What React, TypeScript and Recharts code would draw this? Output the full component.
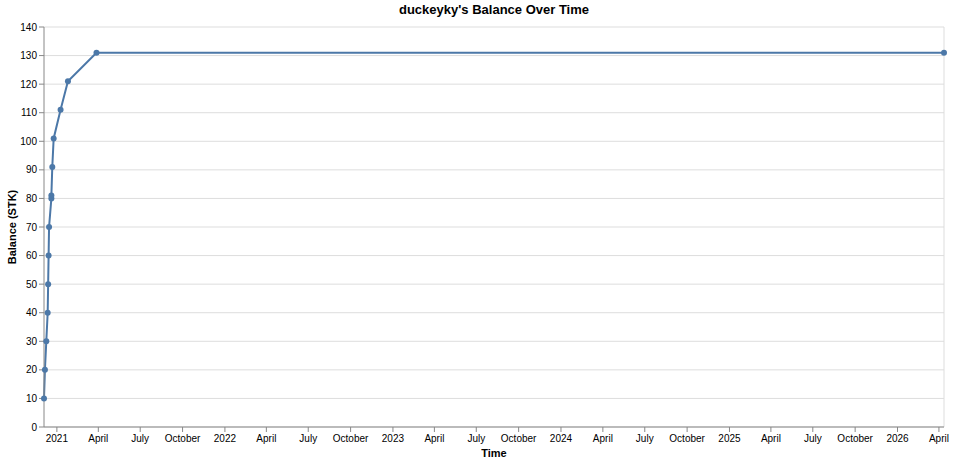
import React from 'react';
import { LineChart, Line, XAxis, YAxis, CartesianGrid, ReferenceLine } from 'recharts';

const dates: string[] = [
  '2020-12-04', '2020-12-06', '2020-12-09', '2020-12-12', '2020-12-13',
  '2020-12-14', '2020-12-15', '2020-12-20', '2020-12-20', '2020-12-22',
  '2020-12-25', '2021-01-09', '2021-01-25', '2021-03-28', '2026-04-12',
];
const balances: number[] = [10, 20, 30, 40, 50, 60, 70, 80, 81, 91, 101, 111, 121, 131, 131];

const yTicks: number[] = [0, 10, 20, 30, 40, 50, 60, 70, 80, 90, 100, 110, 120, 130, 140];
const xTickDates: string[] = [];
for (const y of [2021, 2022, 2023, 2024, 2025, 2026]) {
  for (const m of ['01', '04', '07', '10']) {
    if (y === 2026 && (m === '07' || m === '10')) continue;
    xTickDates.push(`${y}-${m}-01`);
  }
}
const monthNames: Record<number, string> = { 3: 'April', 6: 'July', 9: 'October' };

const toTs = (d: string) => Date.UTC(+d.slice(0, 4), +d.slice(5, 7) - 1, +d.slice(8, 10));
const data = dates.map((d, i) => ({ t: toTs(d), balance: balances[i] }));
const xTicks = xTickDates.map(toTs);
const fmt = (v: number) => {
  const dt = new Date(v);
  const m = dt.getUTCMonth();
  return m === 0 ? String(dt.getUTCFullYear()) : monthNames[m] ?? '';
};

const FONT = 'Liberation Sans, Arial, sans-serif';
const COLOR = '#4c78a8';

export default function App() {
  const first = data[0].t;
  const last = data[data.length - 1].t;
  return (
    <div style={{ position: 'absolute', left: 0, top: 0, width: 953, height: 464, fontFamily: FONT, background: '#fff' }}>
      <LineChart width={953} height={464} data={data} margin={{ top: 27, right: 9, bottom: 0, left: 0 }}>
        <CartesianGrid vertical={false} stroke="#ddd" strokeWidth={1} />
        <ReferenceLine x={last} stroke="#ddd" />
        <XAxis
          dataKey="t"
          type="number"
          scale="time"
          domain={[first, last]}
          ticks={xTicks}
          tickFormatter={fmt}
          interval={0}
          height={37}
          stroke="#888"
          tickSize={5}
          tick={{ fill: '#000', fontSize: 10, fontFamily: FONT }}
          tickMargin={3}
        />
        <YAxis
          type="number"
          domain={[0, 140]}
          ticks={yTicks}
          interval={0}
          width={44}
          stroke="#888"
          tickSize={5}
          tickMargin={2}
          tick={{ fill: '#000', fontSize: 10, fontFamily: FONT }}
        />
        <Line
          type="linear"
          dataKey="balance"
          stroke={COLOR}
          strokeWidth={2}
          dot={{ r: 3, fill: COLOR, stroke: 'none', strokeWidth: 0, clipDot: false }}
          activeDot={false}
          isAnimationActive={false}
        />
      </LineChart>
      <div style={{ position: 'absolute', left: 44, width: 900, top: 2, textAlign: 'center', fontWeight: 'bold', fontSize: 13, lineHeight: '16px', color: '#000' }}>
        duckeyky's Balance Over Time
      </div>
      <div style={{ position: 'absolute', left: 44, width: 900, top: 446, textAlign: 'center', fontWeight: 'bold', fontSize: 11, lineHeight: '14px', color: '#000' }}>
        Time
      </div>
      <div style={{ position: 'absolute', left: 12, top: 227, width: 0, height: 0 }}>
        <div style={{ position: 'absolute', left: 0, top: 0, transform: 'translate(-50%, -50%) rotate(-90deg)', whiteSpace: 'nowrap', fontWeight: 'bold', fontSize: 11, lineHeight: '14px', color: '#000' }}>
          Balance (STK)
        </div>
      </div>
    </div>
  );
}
